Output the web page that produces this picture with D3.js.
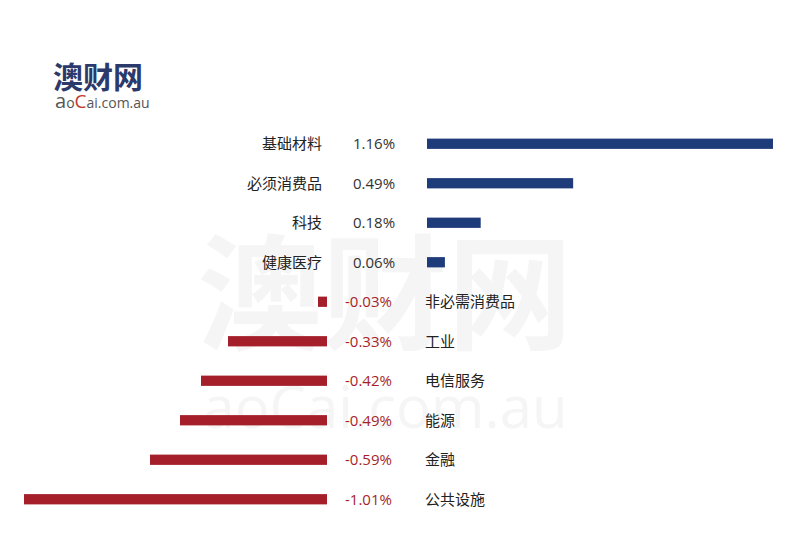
<!DOCTYPE html>
<html lang="zh">
<head>
<meta charset="utf-8">
<script src="https://d3js.org/d3.v7.min.js"></script>
<style>
body { margin: 0; background: #fff; }
text { font-family: "Noto Sans CJK SC", "Noto Sans", sans-serif; }
</style>
</head>
<body>
<svg width="800" height="550"></svg>
<script>
// 行业板块涨跌幅
var categories = ["基础材料", "必须消费品", "科技", "健康医疗", "非必需消费品", "工业", "电信服务", "能源", "金融", "公共设施"];
var values = [1.16, 0.49, 0.18, 0.06, -0.03, -0.33, -0.42, -0.49, -0.59, -1.01];

var svg = d3.select("svg");

// watermark
svg.append("text").attr("x", 385).attr("y", 340).attr("text-anchor", "middle")
  .style("font-size", "125px").style("font-weight", "bold").style("fill", "#f5f5f5")
  .text("澳财网");
svg.append("text").attr("x", 385).attr("y", 428).attr("text-anchor", "middle")
  .style("font-size", "58px").style("fill", "#f5f5f5").style("font-family", "Open Sans")
  .text("aoCai.com.au");

// logo
svg.append("text").attr("x", 53).attr("y", 88)
  .style("font-size", "30px").style("font-weight", "bold").style("fill", "#2b3a6b")
  .text("澳财网");
var sub = svg.append("text").attr("x", 55).attr("y", 108)
  .style("font-size", "14px").style("fill", "#555").style("font-family", "Open Sans");
sub.append("tspan").text("a").style("font-size", "20px");
sub.append("tspan").text("o");
sub.append("tspan").text("C").style("fill", "#c0392b").style("font-size", "19px");
sub.append("tspan").text("ai.com.au");

var y = d3.scaleBand().domain(categories).range([124, 519]).paddingInner(0.74).paddingOuter(0.37);
var xPos = d3.scaleLinear().domain([0, 1.16]).range([427, 773]);
var xNeg = d3.scaleLinear().domain([-1.01, 0]).range([24, 327]);

var rows = svg.selectAll("g.row").data(values).enter().append("g").attr("class", "row")
  .attr("transform", function(d, i) { return "translate(0," + y(categories[i]) + ")"; });

rows.append("rect")
  .attr("x", function(d) { return d >= 0 ? xPos(0) : xNeg(d); })
  .attr("width", function(d) { return d >= 0 ? xPos(d) - xPos(0) : xNeg(0) - xNeg(d); })
  .attr("height", y.bandwidth())
  .attr("fill", function(d) { return d >= 0 ? "#1f3c7a" : "#a51f2b"; });

var mid = y.bandwidth() / 2;
rows.append("text")
  .attr("x", function(d) { return d >= 0 ? 322 : 425; })
  .attr("y", mid).attr("dy", "0.35em")
  .attr("text-anchor", function(d) { return d >= 0 ? "end" : "start"; })
  .style("font-size", "15px").style("fill", "#222")
  .text(function(d, i) { return categories[i]; });

rows.append("text")
  .attr("x", function(d) { return d >= 0 ? 353 : 345; })
  .attr("y", mid).attr("dy", "0.35em")
  .style("font-size", "15px").style("font-family", "Open Sans")
  .style("fill", function(d) { return d >= 0 ? "#333" : "#a51f2b"; })
  .text(function(d) { return d.toFixed(2) + "%"; });
</script>
</body>
</html>
